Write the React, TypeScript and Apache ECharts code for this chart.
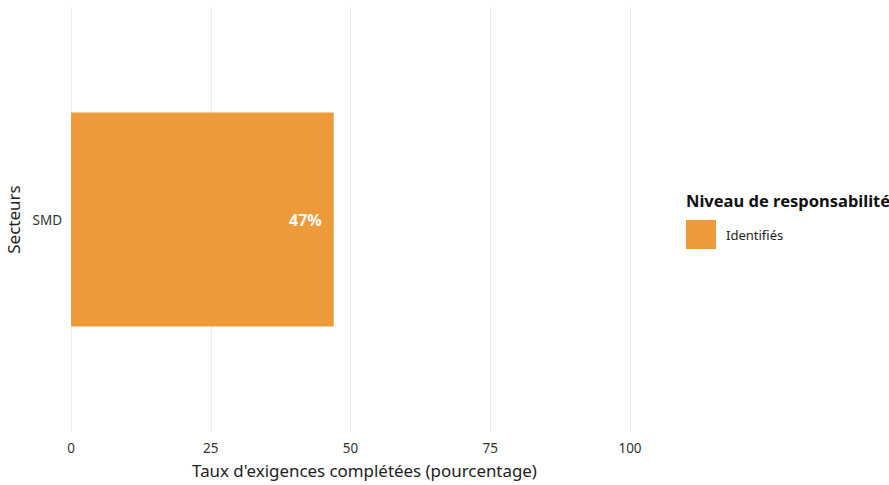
import React, { useEffect, useRef } from "react";
import * as echarts from "echarts";

const categories = ["SMD"];
const seriesName = "Identifiés";
const values = [47];
const xTicks = [0, 25, 50, 75, 100];

const FONT = "'Noto Sans', Lato, sans-serif";

export default function App() {
  const ref = useRef<HTMLDivElement>(null);
  useEffect(() => {
    const chart = echarts.init(ref.current!, null, { renderer: "svg" });
    chart.setOption({
      animation: false,
      backgroundColor: "#ffffff",
      textStyle: { fontFamily: FONT },
      title: {
        text: "Niveau de responsabilité",
        left: 686,
        top: 192,
        padding: 0,
        textStyle: { fontFamily: FONT, fontSize: 16.5, fontWeight: "bold", color: "#111" },
      },
      legend: {
        data: [seriesName],
        left: 686,
        top: 220,
        padding: 0,
        orient: "vertical",
        icon: "rect",
        itemWidth: 30,
        itemHeight: 29,
        itemGap: 10,
        textStyle: { fontFamily: FONT, fontSize: 13, color: "#222", padding: [0, 0, 0, 5] },
        selectedMode: false,
      },
      grid: { left: 71, right: 259, top: 7, bottom: 53, containLabel: false, outerBoundsMode: "none" },
      xAxis: {
        type: "value",
        min: xTicks[0],
        max: xTicks[xTicks.length - 1],
        interval: 25,
        name: "Taux d'exigences complétées (pourcentage)",
        nameLocation: "middle",
        nameGap: 30,
        nameTextStyle: { fontFamily: FONT, fontSize: 16.9, color: "#222", padding: [0, 0, 0, 28] },
        axisLine: { show: false },
        axisTick: { show: false },
        axisLabel: { fontFamily: FONT, fontSize: 13.5, color: "#333", margin: 9 },
        splitLine: { show: true, lineStyle: { color: "#ececec", width: 1 } },
      },
      yAxis: {
        type: "category",
        data: categories,
        name: "Secteurs",
        nameLocation: "middle",
        nameRotate: 90,
        nameGap: 47,
        nameTextStyle: { fontFamily: FONT, fontSize: 17, color: "#222" },
        axisLine: { show: false },
        axisTick: { show: false },
        axisLabel: { fontFamily: FONT, fontSize: 13.5, color: "#333", margin: 9 },
        splitLine: { show: false },
      },
      series: [
        {
          name: seriesName,
          type: "bar",
          data: values,
          barWidth: 214,
          itemStyle: { color: "#EC9A3A" },
          label: {
            show: true,
            position: "insideRight",
            distance: 12,
            formatter: (p: any) => `${p.value}%`,
            color: "#ffffff",
            fontFamily: FONT,
            fontSize: 16,
            fontWeight: "bold",
          },
        },
      ],
    });
    return () => chart.dispose();
  }, []);
  return <div ref={ref} style={{ width: 889, height: 485, position: "absolute", left: 0, top: 0 }} />;
}
